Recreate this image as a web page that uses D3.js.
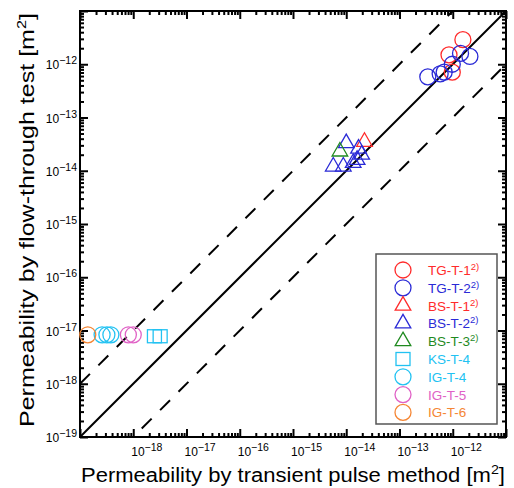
<!DOCTYPE html>
<html>
<head>
<meta charset="utf-8">
<script src="https://cdn.jsdelivr.net/npm/d3@7"></script>
<style>
  body { margin: 0; background: #fff; }
  text { font-family: "Liberation Sans", Arial, sans-serif; }
</style>
</head>
<body>
<div id="chart"></div>
<script>
// data (m^2)
const tgT1X = [1.55e-12, 8.5e-13, 9.8e-13];
const tgT1Y = [2.9e-12, 1.5e-12, 7.1e-13];
const tgT2X = [3.4e-13, 5.8e-13, 6.9e-13, 9.8e-13, 1.4e-12, 2.1e-12];
const tgT2Y = [5.8e-13, 6.6e-13, 7.1e-13, 1.0e-12, 1.6e-12, 1.4e-12];
const bsT1X = [2.2e-14];
const bsT1Y = [3.5e-14];
const bsT2X = [1.0e-14, 1.7e-14, 1.95e-14, 1.6e-14, 5.7e-15, 8.8e-15, 1.35e-14];
const bsT2Y = [3.3e-14, 2.6e-14, 2.0e-14, 1.6e-14, 1.2e-14, 1.2e-14, 1.4e-14];
const bsT3X = [7.6e-15];
const bsT3Y = [2.3e-14];
const ksT4X = [2.5e-18, 3.2e-18];
const ksT4Y = [7.8e-18, 7.8e-18];
const igT4X = [2.6e-19, 3.2e-19, 3.8e-19];
const igT4Y = [8.3e-18, 8.3e-18, 8.3e-18];
const igT5X = [8.1e-19, 1.0e-18];
const igT5Y = [8.3e-18, 8.3e-18];
const igT6X = [1.4e-19];
const igT6Y = [8.3e-18];

const seriesNames = ["TG-T-1", "TG-T-2", "BS-T-1", "BS-T-2", "BS-T-3", "KS-T-4", "IG-T-4", "IG-T-5", "IG-T-6"];
const seriesNotes = ["2)", "2)", "2)", "2)", "2)", "", "", "", ""];

const xTickExps = [-18, -17, -16, -15, -14, -13, -12];
const yTickExps = [-19, -18, -17, -16, -15, -14, -13, -12];

const series = [
  {name: seriesNames[0], note: seriesNotes[0], xs: tgT1X, ys: tgT1Y, shape: "circle", color: "#ff2b2b"},
  {name: seriesNames[1], note: seriesNotes[1], xs: tgT2X, ys: tgT2Y, shape: "circle", color: "#2a2ad6"},
  {name: seriesNames[2], note: seriesNotes[2], xs: bsT1X, ys: bsT1Y, shape: "triangle", color: "#ff2b2b"},
  {name: seriesNames[3], note: seriesNotes[3], xs: bsT2X, ys: bsT2Y, shape: "triangle", color: "#2a2ad6"},
  {name: seriesNames[4], note: seriesNotes[4], xs: bsT3X, ys: bsT3Y, shape: "triangle", color: "#1f8a1f"},
  {name: seriesNames[5], note: seriesNotes[5], xs: ksT4X, ys: ksT4Y, shape: "square", color: "#22c2f2"},
  {name: seriesNames[6], note: seriesNotes[6], xs: igT4X, ys: igT4Y, shape: "circle", color: "#22c2f2"},
  {name: seriesNames[7], note: seriesNotes[7], xs: igT5X, ys: igT5Y, shape: "circle", color: "#e062c6"},
  {name: seriesNames[8], note: seriesNotes[8], xs: igT6X, ys: igT6Y, shape: "circle", color: "#f58634"}
];

const W = 514, H = 488;
const margin = {left: 80, top: 11, right: 8, bottom: 51};
const width = W - margin.left - margin.right;
const height = H - margin.top - margin.bottom;

const svg = d3.select("#chart").append("svg")
  .attr("width", W).attr("height", H);

const g = svg.append("g")
  .attr("transform", `translate(${margin.left},${margin.top})`);

const x = d3.scaleLog().domain([1e-19, 1e-11]).range([0, width]);
const y = d3.scaleLog().domain([1e-19, 1e-11]).range([height, 0]);

// tick values: decades and 2..9 minors
const majors = d3.range(-19, -10).map(e => Math.pow(10, e));
const minors = [];
d3.range(-19, -11).forEach(e => {
  for (let k = 2; k <= 9; k++) minors.push(k * Math.pow(10, e));
});

function drawAxis(axisFn, scale, transform) {
  [[majors, 8], [minors, 4]].forEach(([vals, len]) => {
    const a = g.append("g")
      .attr("transform", transform)
      .call(axisFn(scale).tickValues(vals).tickSize(-len).tickFormat(""));
    a.select(".domain").remove();
    a.selectAll("line").attr("stroke", "#000").attr("stroke-width", 2);
  });
}
drawAxis(d3.axisBottom, x, `translate(0,${height})`);
drawAxis(d3.axisTop, x, "translate(0,0)");
drawAxis(d3.axisLeft, y, "translate(0,0)");
drawAxis(d3.axisRight, y, `translate(${width},0)`);

// frame
g.append("rect")
  .attr("width", width).attr("height", height)
  .attr("fill", "none").attr("stroke", "#000").attr("stroke-width", 2);

// tick labels
xTickExps.forEach(e => {
  const t = g.append("text")
    .attr("x", x(Math.pow(10, e)) - 2)
    .attr("y", height + 19)
    .attr("font-size", 12);
  t.append("tspan").text("10");
  t.append("tspan").attr("dy", -5).attr("font-size", 10.5).text("\u2212" + Math.abs(e));
});
yTickExps.forEach(e => {
  const t = g.append("text")
    .attr("x", -3)
    .attr("y", y(Math.pow(10, e)) + 5)
    .attr("text-anchor", "end")
    .attr("font-size", 12);
  t.append("tspan").text("10");
  t.append("tspan").attr("dy", -5).attr("font-size", 10.5).text("\u2212" + Math.abs(e));
});

// axis titles
const xt = svg.append("text")
  .attr("x", 81)
  .attr("y", 482)
  .attr("font-size", 20)
  .attr("textLength", 424)
  .attr("lengthAdjust", "spacingAndGlyphs");
xt.append("tspan").text("Permeability by transient pulse method [m");
xt.append("tspan").attr("dy", -8).attr("font-size", 13).text("2");
xt.append("tspan").attr("dy", 8).text("]");

const yt = svg.append("text")
  .attr("transform", "translate(34,427) rotate(-90)")
  .attr("font-size", 20)
  .attr("textLength", 414)
  .attr("lengthAdjust", "spacingAndGlyphs");
yt.append("tspan").text("Permeability by flow-through test [m");
yt.append("tspan").attr("dy", -8).attr("font-size", 13).text("2");
yt.append("tspan").attr("dy", 8).text("]");

// reference lines: 1:1 and factor 10 either side
const line = d3.line().x(d => x(d[0])).y(d => y(d[1]));
g.append("path")
  .attr("d", line([[1e-19, 1e-19], [1e-11, 1e-11]]))
  .attr("stroke", "#000").attr("stroke-width", 2).attr("fill", "none");
g.append("path")
  .attr("d", line([[1e-19, 1e-18], [1e-12, 1e-11]]))
  .attr("stroke", "#000").attr("stroke-width", 2).attr("fill", "none")
  .attr("stroke-dasharray", "14 12").attr("stroke-dashoffset", 0);
g.append("path")
  .attr("d", line([[1e-18, 1e-19], [1e-11, 1e-12]]))
  .attr("stroke", "#000").attr("stroke-width", 2).attr("fill", "none")
  .attr("stroke-dasharray", "14 12").attr("stroke-dashoffset", 14);

// marker shapes
function marker(sel, shape, color) {
  if (shape === "circle") {
    sel.append("circle").attr("r", 8);
  } else if (shape === "triangle") {
    sel.append("path").attr("d", "M0,-9L7.8,4.5L-7.8,4.5Z");
  } else {
    sel.append("rect").attr("x", -7).attr("y", -6.5).attr("width", 14).attr("height", 13);
  }
  sel.selectAll("circle,path,rect")
    .attr("fill", "none").attr("stroke", color).attr("stroke-width", 1.3);
}

series.forEach(s => {
  const pts = s.xs.map((v, i) => [v, s.ys[i]]);
  g.append("g").selectAll("g")
    .data(pts)
    .enter()
    .append("g")
      .attr("transform", d => `translate(${x(d[0])},${y(d[1])})`)
      .each(function() { marker(d3.select(this), s.shape, s.color); });
});

// legend
const legend = svg.append("g").attr("transform", "translate(376,254)");
legend.append("rect")
  .attr("width", 121).attr("height", 170)
  .attr("fill", "#fff").attr("stroke", "#555").attr("stroke-width", 1.5);

series.forEach((s, i) => {
  const row = legend.append("g").attr("transform", `translate(0,${16 + i * 17.8})`);
  const m = row.append("g").attr("transform", "translate(27,0)");
  marker(m, s.shape, s.color);
  const t = row.append("text")
    .attr("x", 52).attr("y", 5)
    .attr("font-size", 13.5)
    .attr("fill", s.color);
  t.append("tspan").text(s.name);
  if (s.note) t.append("tspan").attr("dy", -5).attr("font-size", 9.5).text(s.note);
});
</script>
</body>
</html>
